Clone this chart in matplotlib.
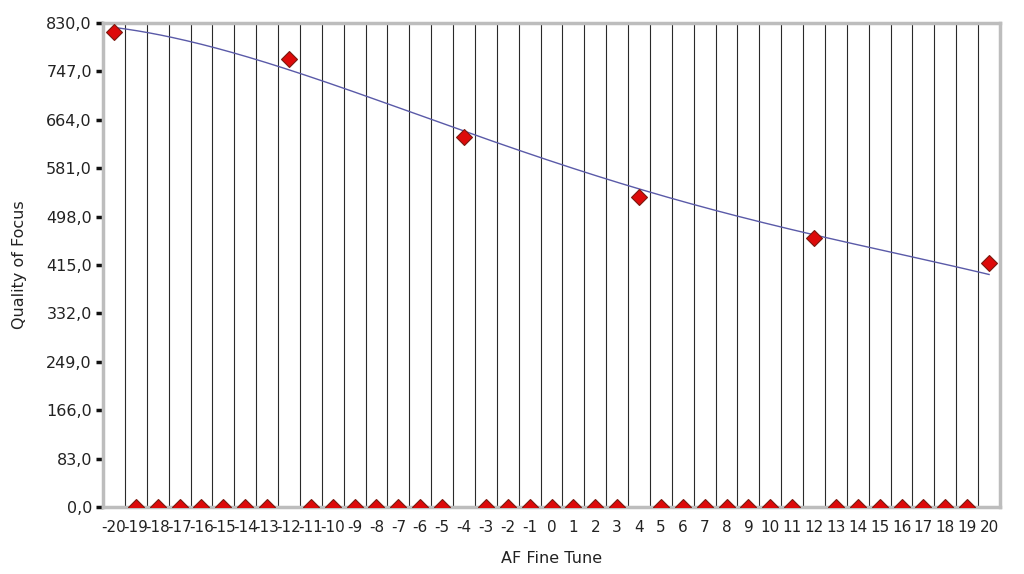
import numpy as np
import matplotlib
matplotlib.use("Agg")
import matplotlib.pyplot as plt

plt.rcParams['font.family'] = ['DejaVu Sans']

# Data
af_fine_tune = list(range(-20, 21))
measured_x = [-20, -12, -4, 4, 12, 20]
measured_q = [814, 768, 635, 532, 462, 418]
quality = [measured_q[measured_x.index(v)] if v in measured_x else 0 for v in af_fine_tune]
# trend line values
trend_x = [-20, -16, -12, -8, -4, 0, 4, 8, 12, 16, 20]
trend_q = [822, 794, 750, 700, 641, 593, 546, 506, 467, 430, 400]
y_ticks = [0, 83, 166, 249, 332, 415, 498, 581, 664, 747, 830]
x_labels = [str(v) for v in af_fine_tune]

fig = plt.figure(figsize=(10.24, 5.74), dpi=100)
ax = fig.add_axes([103/1024, 1-507/574, (1000-103)/1024, (507-23)/574])

# smooth trend curve through the read values
coef = np.polyfit(trend_x, trend_q, 4)
xs = np.linspace(trend_x[0], trend_x[-1], 300)
ax.plot(xs, np.polyval(coef, xs), color='#5a5aa8', lw=1.0, zorder=3)

ax.plot(af_fine_tune, quality, linestyle='none', marker='D', markersize=8,
        markerfacecolor='#dd0a0a', markeredgecolor='#7a1a10', markeredgewidth=0.8,
        zorder=4, clip_on=True)

ax.set_xlim(-20.5, 20.5)
ax.set_ylim(0, 830)
ax.set_yticks(y_ticks)
ax.set_yticklabels([f"{v:.1f}".replace('.', ',') for v in y_ticks], fontsize=11.5, color='#222222')
ax.set_xticks(af_fine_tune)
ax.set_xticklabels(x_labels, fontsize=11, color='#222222')
ax.set_xticks(np.arange(-19.5, 20.5, 1.0), minor=True)
ax.grid(True, which='minor', axis='x', color='#2a2a2a', lw=0.8)
ax.tick_params(axis='x', which='both', length=0, pad=9)
ax.tick_params(axis='y', length=5, width=2.5, color='#111111', pad=3)

for s in ax.spines.values():
    s.set_color('#bdbdbd')
    s.set_linewidth(2.5)

ax.set_xlabel('AF Fine Tune', fontsize=11.5, color='#222222', labelpad=12)
ax.set_ylabel('Quality of Focus', fontsize=11.5, color='#222222', labelpad=14)

fig.savefig('out.png', dpi=100)
